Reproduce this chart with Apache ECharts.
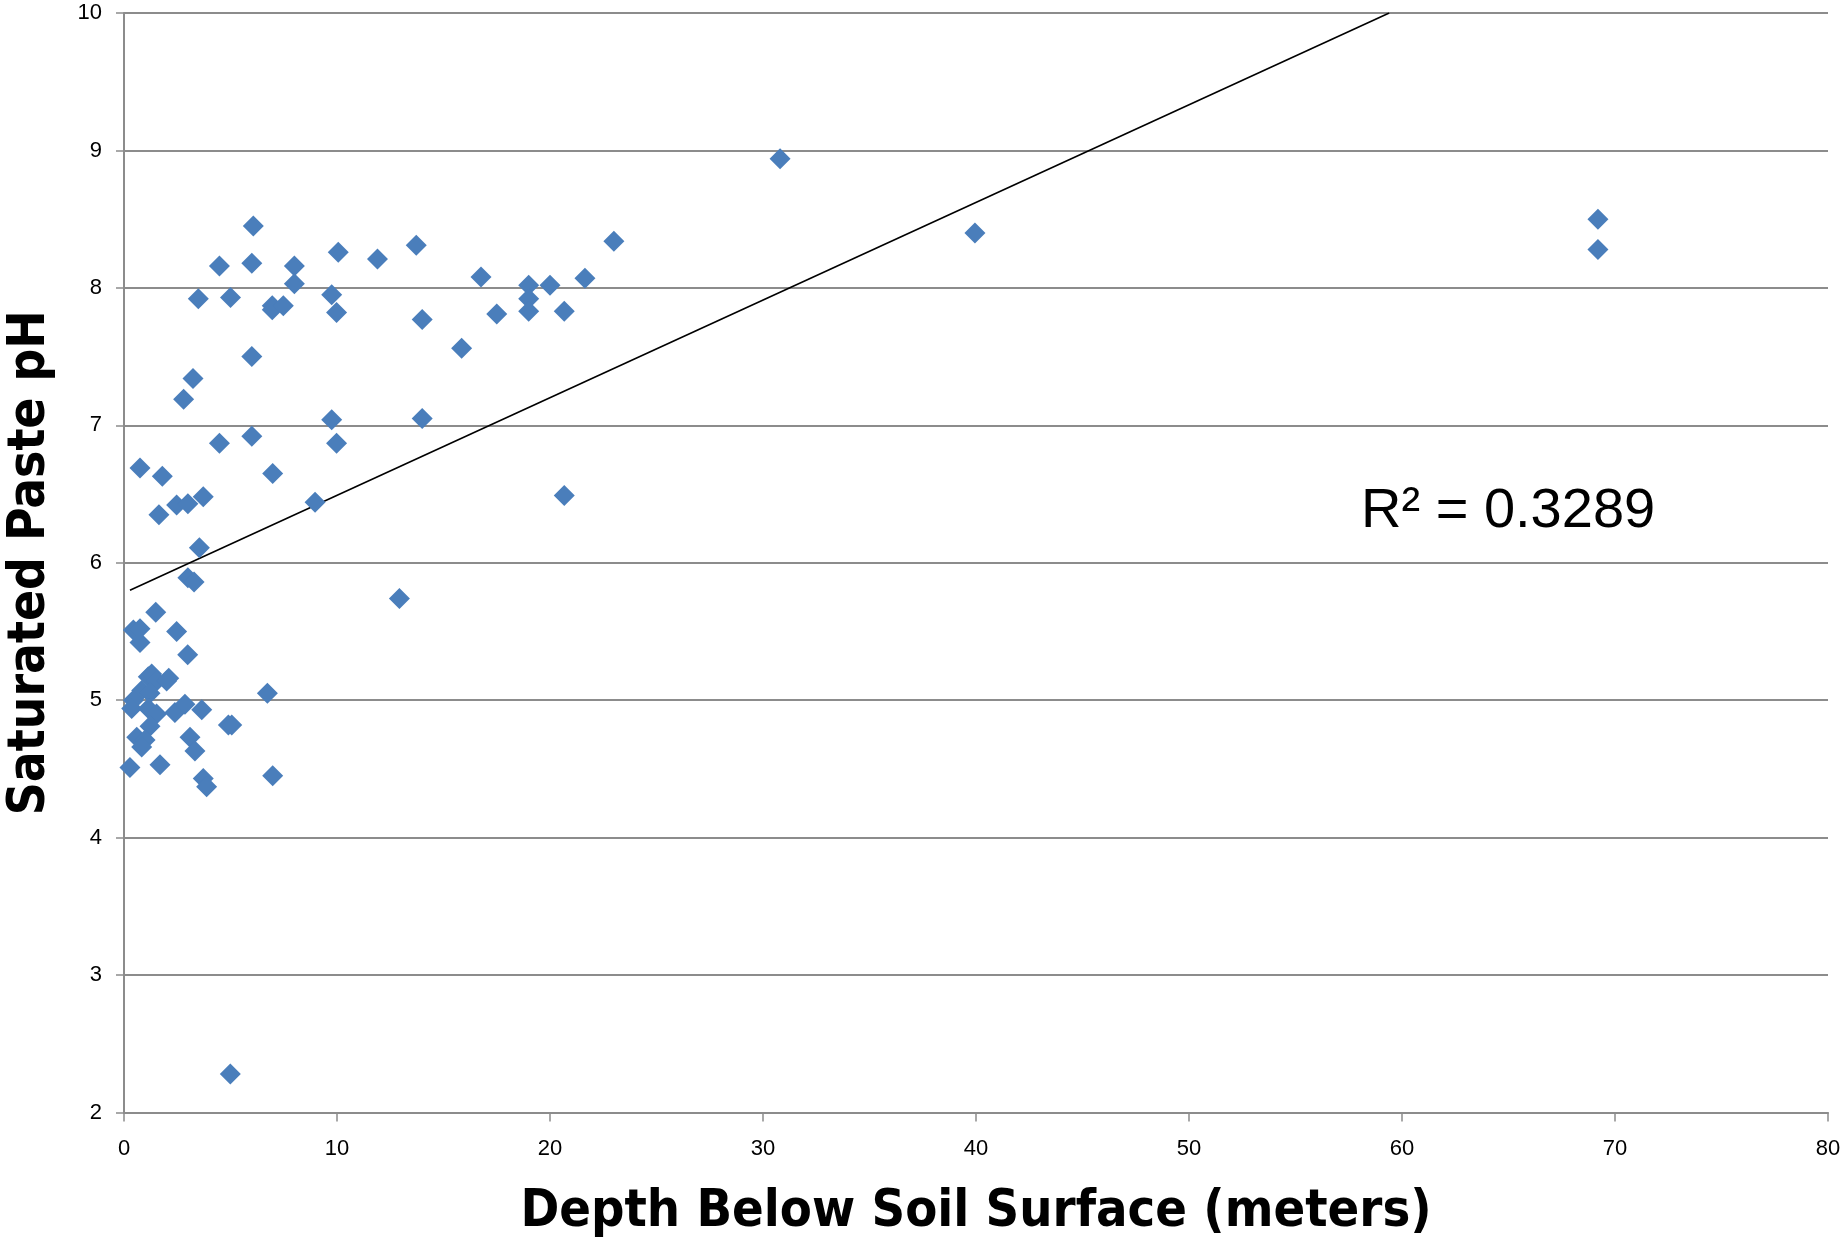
<!DOCTYPE html>
<html>
<head>
<meta charset="utf-8">
<script src="https://cdn.jsdelivr.net/npm/echarts@6/dist/echarts.min.js"></script>
<style>
  html, body { margin: 0; padding: 0; background: #ffffff; }
  #chart { width: 1845px; height: 1246px; }
</style>
</head>
<body>
<div id="chart"></div>
<script>
// Depth below soil surface (m)
const depth = [
  30.8, 39.95, 69.2, 69.2, 6.07, 4.48, 6.0, 8.0, 10.06, 11.9,
  13.72, 23.0, 3.49, 5.0, 8.0, 6.96, 6.96, 7.48, 9.75, 9.98,
  6.0, 3.24, 2.8, 16.76, 19.0, 19.0, 19.0, 20.0, 21.64, 14.0,
  17.5, 20.67, 15.85, 9.75, 9.98, 4.48, 6.0, 0.75, 1.8, 6.98,
  1.64, 2.47, 3.0, 3.72, 8.97, 3.54, 3.0, 3.29, 14.0, 20.67,
  12.93, 1.49, 0.44, 0.75, 0.75, 2.47, 2.99, 6.73, 1.14, 1.3,
  1.53, 2.0, 2.1, 0.83, 0.44, 1.22, 0.36, 1.14, 1.53, 2.39,
  2.86, 3.65, 1.22, 4.9, 5.06, 0.6, 3.1, 0.99, 0.83, 3.33,
  0.28, 1.69, 3.72, 3.88, 6.98, 4.99
];
// Saturated paste pH
const pH = [
  8.94, 8.40, 8.50, 8.28, 8.45, 8.16, 8.18, 8.16, 8.26, 8.21,
  8.31, 8.34, 7.92, 7.93, 8.03, 7.87, 7.84, 7.87, 7.95, 7.82,
  7.50, 7.34, 7.19, 8.08, 8.02, 7.92, 7.83, 8.02, 8.07, 7.77,
  7.81, 7.83, 7.56, 7.04, 6.87, 6.87, 6.92, 6.69, 6.63, 6.65,
  6.35, 6.42, 6.43, 6.48, 6.44, 6.11, 5.89, 5.86, 7.05, 6.49,
  5.74, 5.64, 5.51, 5.52, 5.42, 5.50, 5.33, 5.05, 5.17, 5.19,
  5.14, 5.14, 5.16, 5.07, 5.00, 5.05, 4.94, 4.94, 4.90, 4.91,
  4.97, 4.93, 4.81, 4.82, 4.82, 4.73, 4.73, 4.71, 4.66, 4.63,
  4.51, 4.53, 4.43, 4.37, 4.45, 2.28
];
// Linear trendline end points
const trendX = [0.28, 59.4];
const trendY = [5.80, 10.0];
const xTicks = { min: 0, max: 80, interval: 10 };
const yTicks = { min: 2, max: 10, interval: 1 };
const r2Label = 'R² = 0.3289';
const xTitle = 'Depth Below Soil Surface (meters)';
const yTitle = 'Saturated Paste pH';

const points = depth.map((d, i) => [d, pH[i]]);
const trend = trendX.map((x, i) => [x, trendY[i]]);

const chart = echarts.init(document.getElementById('chart'), null, { renderer: 'canvas' });
const gridCol = '#8c8c8c';
const titleFont = "'Liberation Sans Narrow', 'DejaVu Sans Condensed', 'Liberation Sans', sans-serif";
const tickFont = "'Liberation Sans', 'DejaVu Sans', sans-serif";

chart.setOption({
  animation: false,
  backgroundColor: '#ffffff',
  grid: { left: 124, right: 17, top: 13, bottom: 133.5, containLabel: false, outerBoundsMode: 'none' },
  xAxis: {
    type: 'value',
    min: xTicks.min, max: xTicks.max, interval: xTicks.interval,
    name: xTitle,
    nameLocation: 'middle',
    nameGap: 74,
    nameTextStyle: { fontFamily: titleFont, fontWeight: 'bold', fontSize: 52, color: '#000' },
    axisLine: { show: true, onZero: false, lineStyle: { color: gridCol, width: 2 } },
    axisTick: { show: true, inside: false, length: 9, lineStyle: { color: gridCol, width: 1.5 } },
    axisLabel: { fontFamily: tickFont, fontSize: 22, color: '#000', margin: 25 },
    splitLine: { show: false }
  },
  yAxis: {
    type: 'value',
    min: yTicks.min, max: yTicks.max, interval: yTicks.interval,
    name: yTitle,
    nameLocation: 'middle',
    nameGap: 68,
    nameRotate: 90,
    nameTextStyle: { fontFamily: titleFont, fontWeight: 'bold', fontSize: 51, color: '#000' },
    axisLine: { show: true, onZero: false, lineStyle: { color: gridCol, width: 2 } },
    axisTick: { show: true, inside: false, length: 8, lineStyle: { color: gridCol, width: 1.5 } },
    axisLabel: { fontFamily: tickFont, fontSize: 22, color: '#000', margin: 22 },
    splitLine: { show: true, lineStyle: { color: gridCol, width: 2 } }
  },
  series: [
    {
      type: 'line',
      data: trend,
      showSymbol: false,
      symbol: 'none',
      lineStyle: { color: '#000000', width: 1.6 },
      z: 1,
      silent: true,
      clip: true
    },
    {
      type: 'scatter',
      data: points,
      symbol: 'diamond',
      symbolSize: [21, 21],
      itemStyle: { color: '#4a7ebb', opacity: 1 },
      z: 2
    }
  ],
  graphic: [
    {
      type: 'text',
      left: 1361,
      top: 484,
      style: { text: r2Label, fontFamily: tickFont, fontSize: 56, fill: '#000' }
    }
  ]
});
</script>
</body>
</html>
